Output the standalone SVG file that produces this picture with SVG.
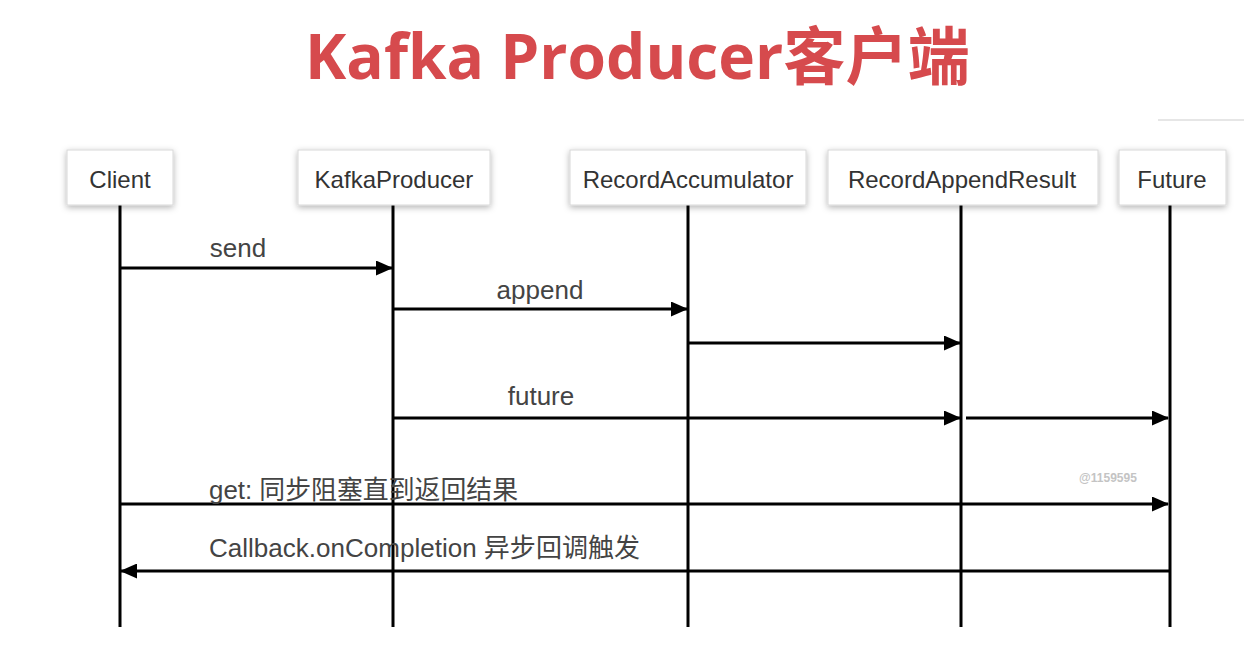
<svg xmlns="http://www.w3.org/2000/svg" width="1244" height="661" viewBox="0 0 1244 661">
<style>
.box{fill:#fff;stroke:#d8d8d8;stroke-width:1}
.bt{font-family:"Liberation Sans",Arial,sans-serif;font-size:24px;fill:#333;text-anchor:middle}
.lt{font-family:"Liberation Sans","Noto Sans CJK SC",sans-serif;font-size:26px;fill:#444}
.life{stroke:#000;stroke-width:3}
.msg{stroke:#000;stroke-width:3;fill:none;marker-end:url(#ah)}
</style>
<defs>
<filter id="sh" x="-20%" y="-30%" width="140%" height="160%">
<feDropShadow dx="0" dy="2" stdDeviation="3" flood-color="#000" flood-opacity="0.3"/>
</filter>
<marker id="ah" markerUnits="userSpaceOnUse" markerWidth="17" markerHeight="15" refX="16" refY="7.5" orient="auto">
<path d="M0,0 L17,7.5 L0,15 Z" fill="#000"/>
</marker>
</defs>
<rect width="1244" height="661" fill="#fff"/>
<text x="305" y="79" textLength="665" lengthAdjust="spacingAndGlyphs" font-family="'Open Sans','Noto Sans CJK SC',sans-serif" font-weight="bold" font-size="63" fill="#d64a4d">Kafka Producer客户端</text>
<line x1="1158" y1="120" x2="1244" y2="120" stroke="#e6e6e6" stroke-width="2"/>
<g id="lifelines">
<line class="life" x1="120" y1="205" x2="120" y2="627"/>
<line class="life" x1="393" y1="205" x2="393" y2="627"/>
<line class="life" x1="688" y1="205" x2="688" y2="627"/>
<line class="life" x1="961" y1="205" x2="961" y2="627"/>
<line class="life" x1="1170" y1="205" x2="1170" y2="627"/>
</g>
<g id="client"><rect class="box" filter="url(#sh)" x="67" y="150" width="106" height="55"/><text class="bt" x="120" y="188">Client</text></g>
<g id="kafkaproducer"><rect class="box" filter="url(#sh)" x="298" y="150" width="192" height="55"/><text class="bt" x="394" y="188">KafkaProducer</text></g>
<g id="recordaccumulator"><rect class="box" filter="url(#sh)" x="570" y="150" width="236" height="55"/><text class="bt" x="688" y="188">RecordAccumulator</text></g>
<g id="recordappendresult"><rect class="box" filter="url(#sh)" x="828" y="150" width="270" height="55"/><text class="bt" x="962" y="188">RecordAppendResult</text></g>
<g id="future"><rect class="box" filter="url(#sh)" x="1119" y="150" width="107" height="55"/><text class="bt" x="1172" y="188">Future</text></g>
<g id="connectors">
<line class="msg" x1="120" y1="268" x2="392" y2="268"/>
<line class="msg" x1="393" y1="309" x2="687" y2="309"/>
<line class="msg" x1="688" y1="343" x2="960" y2="343"/>
<line class="msg" x1="393" y1="418" x2="960" y2="418"/>
<line class="msg" x1="966" y1="418" x2="1168" y2="418"/>
<line class="msg" x1="120" y1="504" x2="1168" y2="504"/>
<line class="msg" x1="1170" y1="571" x2="121" y2="571"/>
</g>
<g id="labels">
<text class="lt" x="238" y="257" text-anchor="middle">send</text>
<text class="lt" x="540" y="299" text-anchor="middle">append</text>
<text class="lt" x="541" y="405" text-anchor="middle">future</text>
<text class="lt" x="209" y="499" textLength="309" lengthAdjust="spacingAndGlyphs">get: 同步阻塞直到返回结果</text>
<text class="lt" x="209" y="557" textLength="431" lengthAdjust="spacingAndGlyphs">Callback.onCompletion 异步回调触发</text>
</g>
<text x="1108" y="482" font-family="'Liberation Sans',sans-serif" font-weight="bold" font-size="12" fill="#c4c4c4" text-anchor="middle">@1159595</text>
</svg>
